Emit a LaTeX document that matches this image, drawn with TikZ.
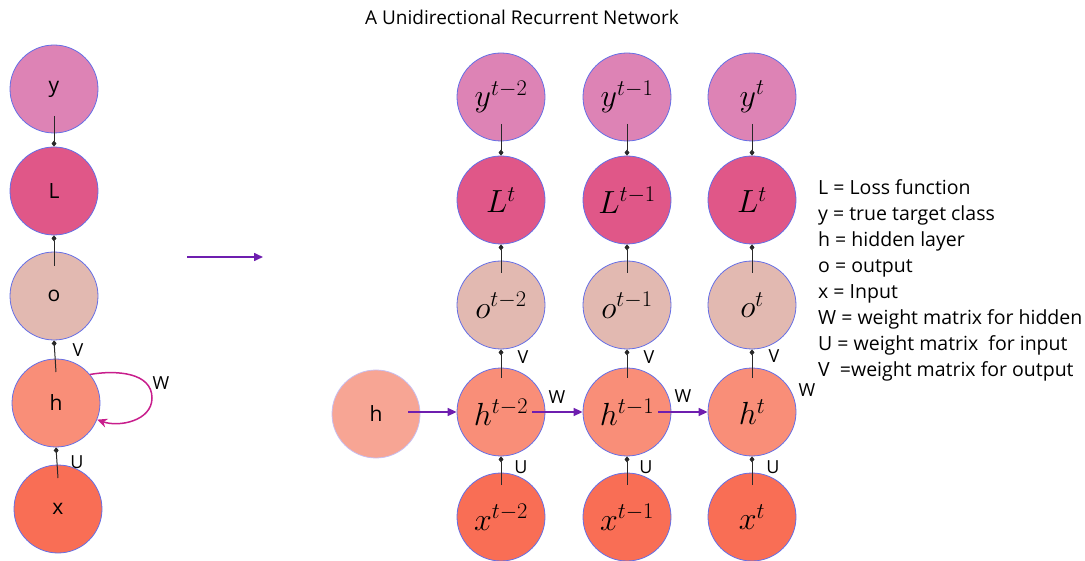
\RequirePackage{fix-cm}
\documentclass[tikz,border=0pt]{standalone}
\usepackage{fontspec}
\setmainfont{Open Sans}
\usetikzlibrary{arrows.meta}
\definecolor{cy}{RGB}{221,131,181}
\definecolor{cL}{RGB}{224,87,136}
\definecolor{co}{RGB}{226,185,177}
\definecolor{ch}{RGB}{249,142,120}
\definecolor{cx}{RGB}{249,110,85}
\definecolor{ch0}{RGB}{247,165,148}
\definecolor{cbord}{RGB}{100,110,230}
\definecolor{cpur}{RGB}{110,30,175}
\definecolor{cmag}{RGB}{200,30,140}
\tikzset{
  unit/.style={circle,draw=cbord,line width=0.8pt,minimum size=88pt,inner sep=0pt},
  sflab/.style={font=\fontsize{21}{21}\selectfont},
  mlab/.style={font=\fontsize{32}{32}\selectfont},
  conn/.style={draw={rgb,255:red,40;green,40;blue,40},line width=1pt,-{Diamond[length=6pt,width=5pt]}},
  harr/.style={draw=cpur,line width=1.6pt,-{Triangle[length=9pt,width=8pt]}},
  loopc/.style={draw=cmag,line width=1.5pt,-{Stealth[length=10pt,width=9pt]}},
  wlab/.style={font=\fontsize{18}{18}\selectfont},
  legend/.style={font=\fontsize{19.5}{26}\selectfont,align=left,anchor=north west,inner sep=0pt}
}
\begin{document}
\begin{tikzpicture}[x=1pt,y=-1pt]
\useasboundingbox (0,0) rectangle (1085,561);
\node[font=\fontsize{19}{19}\selectfont] (title) at (522,17) {A Unidirectional Recurrent Network};
% left column
\node[unit,fill=cy,sflab] (ly) at (54,89) {y};
\node[unit,fill=cL,sflab] (lL) at (54,191) {L};
\node[unit,fill=co,sflab] (lo) at (54,296) {o};
\node[unit,fill=ch,sflab] (lh) at (56,403) {h};
\node[unit,fill=cx,sflab] (lx) at (58,509) {x};
\draw[conn] ([yshift=-27pt]ly.center) -- (lL.north);
\draw[conn] ([yshift=30pt]lo.center) -- (lL.south);
\draw[conn] ([yshift=31pt]lh.center) -- (lo.south);
\draw[conn] ([yshift=31pt]lx.center) -- (lh.south);
\node[wlab] (lV) at (78,350) {V};
\node[wlab] (lU) at (77,462) {U};
\node[wlab] (lW) at (161,383) {W};
\coordinate (wl) at (152,398);
\draw[loopc] (lh.40) to[out=10,in=90] (wl) to[out=-90,in=-20] (lh.-22);
% purple arrow
\coordinate (pa) at (187,257);
\coordinate (pb) at (263,257);
\draw[harr] (pa) -- (pb);
% right grid
\node[unit,fill=cy,mlab] (y2) at (501,97) {$y^{t-2}$};
\node[unit,fill=cy,mlab] (y1) at (627,97) {$y^{t-1}$};
\node[unit,fill=cy,mlab] (y0) at (752,97) {$y^{t}$};
\node[unit,fill=cL,mlab] (L2) at (501,200) {$L^{t}$};
\node[unit,fill=cL,mlab] (L1) at (627,200) {$L^{t-1}$};
\node[unit,fill=cL,mlab] (L0) at (752,200) {$L^{t}$};
\node[unit,fill=co,mlab] (o2) at (501,305) {$o^{t-2}$};
\node[unit,fill=co,mlab] (o1) at (627,305) {$o^{t-1}$};
\node[unit,fill=co,mlab] (o0) at (752,305) {$o^{t}$};
\node[unit,fill=ch,mlab] (h2) at (501,412) {$h^{t-2}$};
\node[unit,fill=ch,mlab] (h1) at (627,412) {$h^{t-1}$};
\node[unit,fill=ch,mlab] (h0) at (752,412) {$h^{t}$};
\node[unit,fill=cx,mlab] (x2) at (501,517) {$x^{t-2}$};
\node[unit,fill=cx,mlab] (x1) at (627,517) {$x^{t-1}$};
\node[unit,fill=cx,mlab] (x0) at (752,517) {$x^{t}$};
\node[unit,fill=ch0,draw={rgb,255:red,200;green,190;blue,240},sflab] (hs) at (376,414) {h};
\foreach \c in {2,1,0}{
  \draw[conn] ([yshift=-27pt]y\c.center) -- (L\c.north);
  \draw[conn] ([yshift=32pt]o\c.center) -- (L\c.south);
  \draw[conn] ([yshift=34pt]h\c.center) -- (o\c.south);
  \draw[conn] ([yshift=32pt]x\c.center) -- (h\c.south);
}
\draw[harr] ([xshift=32pt]hs.center |- h2.west) -- (h2.west);
\draw[harr] ([xshift=31pt]h2.center) -- (h1.west);
\draw[harr] ([xshift=31pt]h1.center) -- (h0.west);
\node[wlab] (V2) at (523,357) {V};
\node[wlab] (V1) at (649,357) {V};
\node[wlab] (V0) at (774,356) {V};
\node[wlab] (U2) at (521,467) {U};
\node[wlab] (U1) at (646,467) {U};
\node[wlab] (U0) at (773,467) {U};
\node[wlab] (W2) at (557,397) {W};
\node[wlab] (W1) at (683,396) {W};
\node[wlab] (W0) at (807,390) {W};
\node[legend] (leg) at (818,179) {L = Loss function\\y = true target class\\h = hidden layer\\o = output\\x = Input\\W = weight matrix for hidden\\U = weight matrix\ \ for input\\V \ =weight matrix for output};
\end{tikzpicture}
\end{document}
